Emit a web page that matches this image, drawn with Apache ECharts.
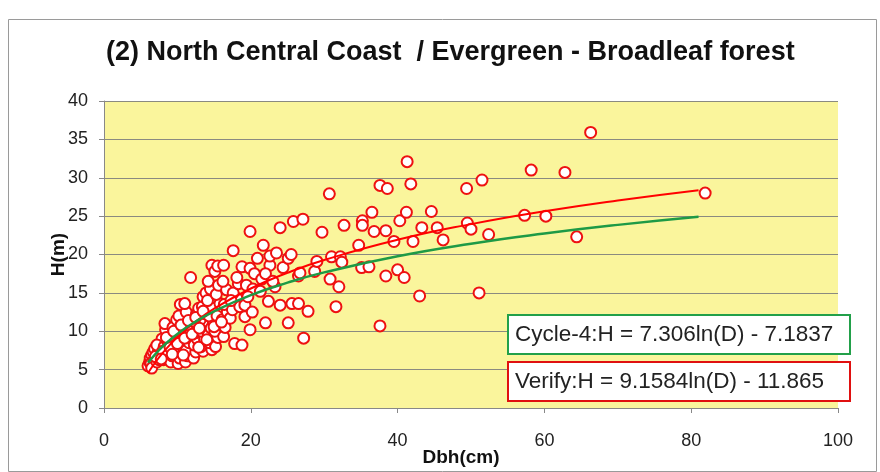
<!DOCTYPE html>
<html><head><meta charset="utf-8">
<script src="https://cdn.jsdelivr.net/npm/echarts@6/dist/echarts.min.js"></script>
<style>html,body{margin:0;padding:0;background:#fff}#c{width:880px;height:472px}</style>
</head><body><div id="c"></div>
<script>
const titleText = "(2) North Central Coast  / Evergreen - Broadleaf forest";
const xTicks = [0, 20, 40, 60, 80, 100];
const yTicks = [0, 5, 10, 15, 20, 25, 30, 35, 40];
const eqCycle = "Cycle-4:H = 7.306ln(D) - 7.1837";
const eqVerify = "Verify:H = 9.1584ln(D) - 11.865";

// observed trees: Dbh (cm)
const dbh = [
 6.0,6.2,6.3,6.5,6.7,6.4,6.8,6.9,6.5,
 7.2,7.4,7.3,7.6,7.8,7.9,7.5,7.7,7.2,
 8.1,8.3,8.5,8.2,8.6,8.8,8.4,8.3,8.9,8.7,
 9.1,9.3,9.5,9.2,9.6,9.8,9.4,9.9,9.7,9.0,
 10.1,10.3,10.5,10.2,10.7,10.4,10.8,10.6,10.2,10.4,10.9,
 11.1,11.4,11.2,11.6,11.3,11.8,11.5,11.7,11.2,11.0,11.8,
 12.2,12.5,12.3,12.7,12.4,12.8,12.1,12.6,12.9,
 13.5,13.2,13.7,13.3,13.8,13.1,13.6,13.4,13.5,13.9,
 14.7,14.4,14.2,14.6,14.9,14.3,14.8,14.1,14.5,14.2,14.7,
 15.2,15.5,15.1,15.7,15.4,15.8,15.3,15.6,15.1,15.5,
 16.3,16.5,16.1,16.8,16.4,16.7,16.2,16.3,
 17.8,17.2,17.5,18.1,17.6,18.3,18.1,17.6,18.5,17.3,18.8,18.8,
 19.2,19.9,19.2,19.4,19.9,20.9,19.9,20.3,20.5,19.6,20.2,
 21.3,22.0,22.4,23.3,22.6,22.6,21.7,23.5,21.5,24.0,24.4,22.0,23.0,
 24.0,25.8,25.1,25.1,25.6,26.5,26.5,27.2,27.1,25.5,
 27.8,26.7,28.7,29.0,
 30.7,29.7,30.8,31.0,32.2,32.4,32.0,31.6,32.7,
 34.7,35.2,35.2,35.1,36.1,36.5,36.8,37.6,38.6,38.4,38.4,37.6,
 39.5,40.0,40.3,40.9,41.2,41.3,41.8,42.1,43.0,43.3,44.6,45.4,46.2,
 49.4,49.5,50.0,51.5,51.1,52.4,57.3,58.2,60.2,62.8,64.4,66.3,81.9,
 7.0,8.0,9.0,10.0,11.0,12.0,13.0,8.5,9.5,10.5,11.5,12.5,13.5,7.8,9.3,10.8,12.9,14.0,15.0,16.0
];
// observed trees: H (m)
const height = [
 5.5,6.0,6.5,6.9,7.3,5.8,6.2,7.7,5.2,
 6.0,6.6,7.1,7.8,8.5,9.0,6.3,7.3,8.2,
 6.3,7.0,7.5,8.0,8.8,9.5,10.2,11.0,6.8,7.8,
 6.0,6.8,7.5,8.2,9.0,9.8,10.5,11.5,7.2,8.6,
 5.8,6.5,7.2,8.0,8.8,9.5,10.3,11.0,12.0,13.5,7.6,
 6.0,6.8,7.5,8.5,9.2,10.0,10.8,11.8,12.5,13.6,17.0,
 6.5,7.3,8.2,9.0,9.8,10.5,11.3,12.2,13.0,
 7.4,8.0,9.0,10.0,10.8,11.5,12.3,13.2,14.5,15.0,
 7.6,8.5,9.5,10.4,11.2,12.0,13.0,14.0,15.5,16.5,18.6,
 8.0,9.2,10.0,11.0,12.0,13.6,14.8,16.0,17.8,18.5,
 9.3,10.5,11.5,12.5,13.5,15.4,16.5,18.6,
 8.4,11.7,12.8,14.3,15.0,16.2,17.0,20.5,13.2,14.0,18.4,8.2,
 11.9,10.2,13.4,16.0,18.2,19.5,23.0,15.5,17.5,14.5,12.5,
 15.2,11.1,13.9,15.8,18.6,19.8,21.2,20.2,16.8,13.4,18.3,17.5,16.5,
 23.5,24.3,19.5,11.1,13.6,13.6,17.2,9.1,24.6,20.0,
 12.6,17.6,17.8,19.1,
 27.9,22.9,16.8,19.7,19.7,19.0,15.8,13.2,23.8,
 21.2,24.4,23.8,18.3,18.4,25.5,23.0,29.0,28.6,23.1,17.2,10.7,
 21.7,18.0,24.4,17.0,25.5,32.1,29.2,21.7,14.6,23.5,25.6,23.5,21.9,
 28.6,24.1,23.3,29.7,15.0,22.6,25.1,31.0,25.0,30.7,22.3,35.9,28.0,
 6.7,7.4,7.9,8.4,9.1,9.6,10.4,9.2,10.0,10.8,11.4,11.8,12.6,6.4,7.0,6.9,7.9,8.9,10.6,11.2
];

// trend curves read along their path
const curveD      = [6, 7, 8, 9, 10, 12, 15, 20, 25, 30, 40, 50, 60, 70, 81];
const cycleH      = [5.91, 7.03, 8.01, 8.87, 9.64, 10.97, 12.60, 14.70, 16.33, 17.67, 19.77, 21.40, 22.73, 23.86, 24.92];
const verifyH     = [4.55, 5.96, 7.18, 8.26, 9.22, 10.89, 12.94, 15.57, 17.62, 19.28, 21.92, 23.96, 25.63, 27.04, 28.38];

const pts = dbh.map((d, i) => [d, height[i]]);
const cyc = curveD.map((d, i) => [d, cycleH[i]]);
const ver = curveD.map((d, i) => [d, verifyH[i]]);

const chart = echarts.init(document.getElementById('c'), null, {renderer: 'canvas'});
const FONT = 'Liberation Sans';
chart.setOption({
  animation: false,
  backgroundColor: '#ffffff',
  textStyle: {fontFamily: FONT},
  title: {
    text: titleText, left: 101, top: 34,
    textStyle: {fontFamily: FONT, fontWeight: 'bold', fontSize: 27, color: '#111'}
  },
  grid: {left: 104, right: 42, top: 101, bottom: 64, show: true, backgroundColor: '#FAF59C', borderWidth: 0,
         containLabel: false, outerBoundsMode: 'none'},
  xAxis: {
    type: 'value', min: xTicks[0], max: xTicks[xTicks.length - 1], interval: 20,
    name: 'Dbh(cm)', nameLocation: 'middle', nameGap: 40, nameMoveOverlap: false,
    nameTextStyle: {fontFamily: FONT, fontWeight: 'bold', fontSize: 19, color: '#111', padding: [0, 20, 0, 0]},
    axisLine: {lineStyle: {color: '#888', width: 1}},
    axisTick: {show: true, inside: false, length: 5, lineStyle: {color: '#888'}},
    axisLabel: {fontSize: 18, color: '#222', margin: 24},
    splitLine: {show: false}
  },
  yAxis: {
    type: 'value', min: yTicks[0], max: yTicks[yTicks.length - 1], interval: 5,
    name: 'H(m)', nameLocation: 'middle', nameGap: 36, nameRotate: 90, nameMoveOverlap: false,
    nameTextStyle: {fontFamily: FONT, fontWeight: 'bold', fontSize: 19, color: '#111'},
    axisLine: {show: true, lineStyle: {color: '#888', width: 1}},
    axisTick: {show: true, length: 5, lineStyle: {color: '#888'}},
    axisLabel: {fontSize: 18, color: '#222', margin: 16},
    splitLine: {show: true, lineStyle: {color: '#8a8a80', width: 1}}
  },
  series: [
    {type: 'scatter', data: pts, symbol: 'emptyCircle', symbolSize: 11,
     itemStyle: {color: '#EE1111', borderColor: '#EE1111', borderWidth: 2, opacity: 1}, z: 2},
    {type: 'line', data: ver, smooth: true, showSymbol: false,
     lineStyle: {color: '#FF0000', width: 2}, z: 3},
    {type: 'line', data: cyc, smooth: true, showSymbol: false,
     lineStyle: {color: '#1E9A46', width: 2.5}, z: 4}
  ],
  graphic: [
    {type: 'rect', left: 6, top: 17, shape: {width: 868, height: 452},
     style: {fill: 'none', stroke: '#9a9a9a', lineWidth: 1}, z: -1, silent: true},
    {type: 'rect', left: 507, top: 314, z: 100, shape: {width: 342, height: 39},
     style: {fill: '#ffffff', stroke: '#22A04A', lineWidth: 2}},
    {type: 'text', left: 515, top: 323, z: 101,
     style: {text: eqCycle, font: '22.5px "Liberation Sans"', fill: '#222'}},
    {type: 'rect', left: 507, top: 361, z: 100, shape: {width: 342, height: 39},
     style: {fill: '#ffffff', stroke: '#E01010', lineWidth: 2}},
    {type: 'text', left: 515, top: 370, z: 101,
     style: {text: eqVerify, font: '22.5px "Liberation Sans"', fill: '#222'}}
  ]
});
</script></body></html>
